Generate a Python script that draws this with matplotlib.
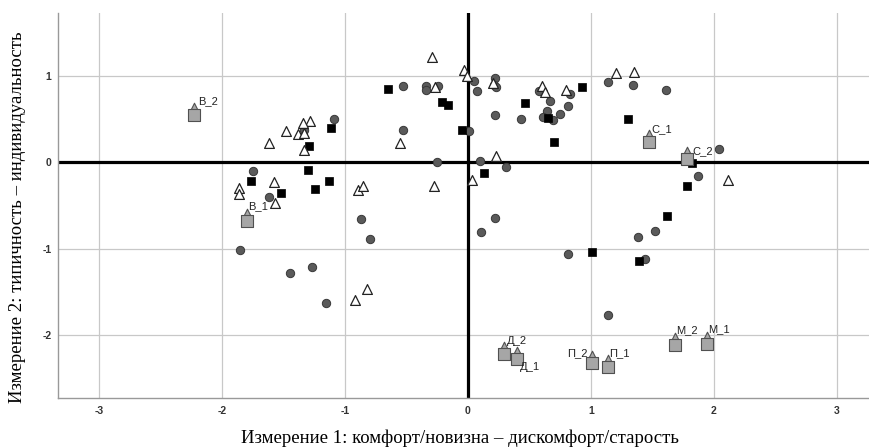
import matplotlib.pyplot as plt
import matplotlib.transforms as mtransforms

plt.rcParams['axes.unicode_minus'] = False

# object points (grey circles)
circle_x = [-0.53, -0.34, -0.34, -0.24, 0.05, 0.07, -1.09, -1.33, -0.53, 0.01,
            -0.25, 0.10, -1.75, -1.62, -0.87, -0.80, -1.85, -1.45, -1.27, -1.15,
            0.22, 0.21, 0.23, 0.22, 0.43, 0.58, 0.67, 0.64, 0.61, 0.69,
            0.75, 0.81, 0.83, 1.14, 1.34, 1.61, 0.31, 2.04, 1.87, 0.22,
            0.11, 0.81, 1.38, 1.52, 1.44, 1.14]
circle_y = [0.88, 0.89, 0.84, 0.89, 0.94, 0.83, 0.50, 0.38, 0.38, 0.36,
            0.00, 0.01, -0.10, -0.40, -0.66, -0.89, -1.01, -1.28, -1.21, -1.63,
            0.98, 0.90, 0.87, 0.55, 0.50, 0.83, 0.71, 0.59, 0.53, 0.49,
            0.56, 0.65, 0.79, 0.93, 0.90, 0.84, -0.05, 0.16, -0.16, -0.64,
            -0.81, -1.06, -0.86, -0.79, -1.12, -1.77]

# black squares
square_x = [-0.65, -0.21, -0.16, -0.05, -1.11, -1.29, -1.30, -1.13, -1.24, -1.52,
            -1.76, 0.46, 0.65, 0.70, 0.93, 1.30, 0.13, 1.82, 1.78, 1.62,
            1.01, 1.39]
square_y = [0.85, 0.70, 0.66, 0.38, 0.40, 0.19, -0.09, -0.22, -0.31, -0.36,
            -0.22, 0.69, 0.51, 0.23, 0.87, 0.50, -0.12, -0.01, -0.27, -0.62,
            -1.04, -1.14]

# white triangles
tri_x = [-0.29, -0.03, -0.01, -0.27, -1.28, -1.34, -1.48, -1.38, -1.33, -1.62,
         -1.33, -0.55, -0.28, 0.03, -1.86, -1.86, -1.58, -1.57, -0.89, -0.85,
         -0.92, -0.82, 0.20, 0.60, 0.63, 0.80, 1.20, 1.35, 0.23, 2.11]
tri_y = [1.22, 1.07, 1.00, 0.87, 0.48, 0.45, 0.36, 0.33, 0.34, 0.22,
         0.14, 0.22, -0.27, -0.21, -0.30, -0.37, -0.23, -0.47, -0.32, -0.27,
         -1.59, -1.47, 0.92, 0.89, 0.82, 0.84, 1.03, 1.05, 0.07, -0.21]

# category points
cat_labels = ['В_2', 'В_1', 'С_1', 'С_2', 'Д_2', 'Д_1', 'П_2', 'П_1', 'М_2', 'М_1']
cat_x = [-2.23, -1.80, 1.47, 1.78, 0.29, 0.40, 1.01, 1.14, 1.68, 1.94]
cat_y = [0.55, -0.68, 0.23, 0.04, -2.22, -2.28, -2.32, -2.37, -2.12, -2.10]

# label offsets in points (ha, va)
label_pos = {
    'В_2': (3, 6, 'left', 'bottom'),
    'В_1': (1, 7, 'left', 'bottom'),
    'С_1': (2, 6, 'left', 'bottom'),
    'С_2': (4, 2, 'left', 'bottom'),
    'Д_2': (2, 6, 'left', 'bottom'),
    'Д_1': (2, -2, 'left', 'top'),
    'П_2': (-3, 3, 'right', 'bottom'),
    'П_1': (1, 6, 'left', 'bottom'),
    'М_2': (1, 7, 'left', 'bottom'),
    'М_1': (1, 7, 'left', 'bottom'),
}

fig = plt.figure(figsize=(8.69, 4.48), dpi=100)
ax = fig.add_axes([0.0671, 0.1116, 0.9329, 0.8594])

ax.set_xlim(-3.33, 3.26)
ax.set_ylim(-2.73, 1.73)
ax.set_xticks([-3, -2, -1, 0, 1, 2, 3])
ax.set_yticks([-2, -1, 0, 1])
ax.grid(True, color='#c8c8c8', linewidth=0.9)
ax.set_axisbelow(True)

ax.axhline(0, color='black', linewidth=2.3, zorder=1.5)
ax.axvline(0, color='black', linewidth=2.3, zorder=1.5)

ax.scatter(circle_x, circle_y, s=36, marker='o', facecolor='#5a5a5a',
           edgecolor='#383838', linewidth=0.7, zorder=3)
ax.scatter(square_x, square_y, s=30, marker='s', facecolor='black',
           edgecolor='black', linewidth=0.5, zorder=4)
ax.scatter(tri_x, tri_y, s=50, marker='^', facecolor='white',
           edgecolor='#222222', linewidth=0.9, zorder=5)

# category markers: grey square with a grey triangle sitting on top
ax.scatter(cat_x, cat_y, s=64, marker='s', facecolor='#a6a6a6',
           edgecolor='#505050', linewidth=0.8, zorder=6)
up = mtransforms.ScaledTranslation(0, 5.8 / 72, fig.dpi_scale_trans)
ax.scatter(cat_x, cat_y, s=38, marker='^', facecolor='#a6a6a6',
           edgecolor='#505050', linewidth=0.8, zorder=5.5,
           transform=ax.transData + up)

for lab, x, y in zip(cat_labels, cat_x, cat_y):
    dx, dy, ha, va = label_pos[lab]
    ax.annotate(lab, (x, y), xytext=(dx, dy), textcoords='offset points',
                ha=ha, va=va, fontsize=8, family='Liberation Sans',
                color='#222222', zorder=7)

for side in ['top', 'right']:
    ax.spines[side].set_visible(False)
for side in ['left', 'bottom']:
    ax.spines[side].set_color('#999999')
    ax.spines[side].set_linewidth(1.0)

ax.tick_params(length=0, labelsize=7.5, labelcolor='#333333')
ax.tick_params(axis='x', pad=6)
ax.tick_params(axis='y', pad=5)
for t in ax.get_xticklabels() + ax.get_yticklabels():
    t.set_fontweight('bold')
    t.set_family('Liberation Sans')

fig.text(460 / 869, 1 - 438 / 448,
         'Измерение 1: комфорт/новизна – дискомфорт/старость',
         family='Liberation Serif', fontsize=13.5, ha='center', va='center')
fig.text(18 / 869, 1 - 217 / 448,
         'Измерение 2: типичность – индивидуальность',
         family='Liberation Serif', fontsize=13.5, ha='center', va='center',
         rotation=90)

fig.savefig('out.png', dpi=100)
